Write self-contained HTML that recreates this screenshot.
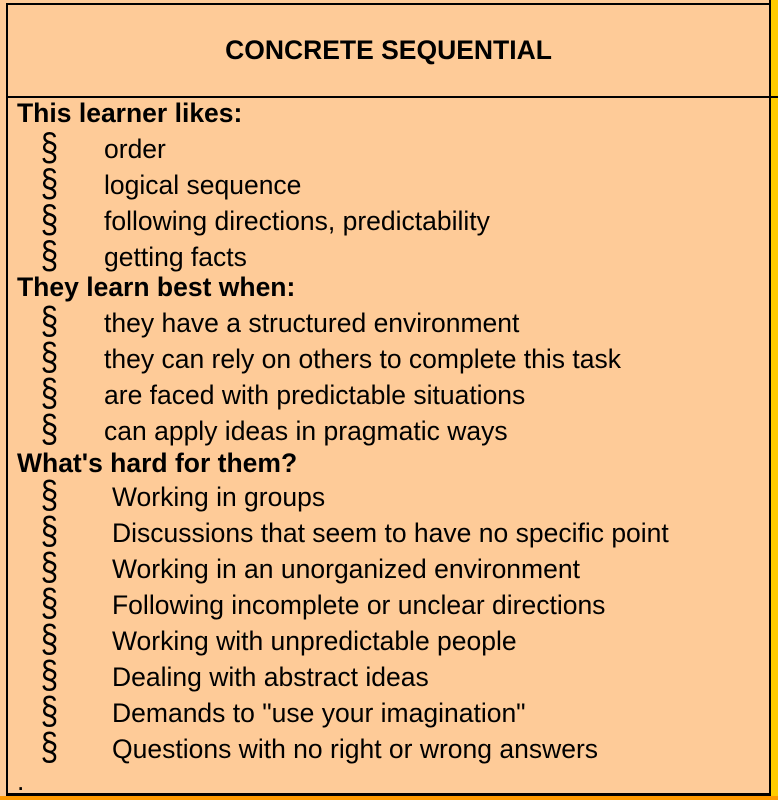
<!DOCTYPE html>
<html><head><style>
body{margin:0;width:778px;height:800px;background:#fff;position:relative;overflow:hidden;font-family:"Liberation Sans",sans-serif;}
.bg{position:absolute;left:0;top:0;width:778px;height:800px;background:#fecb98;}
.l{position:absolute;height:30px;line-height:30px;font-size:26.5px;color:#000;white-space:nowrap;}
.b{font-weight:bold;left:17px;}
.s{left:41px;font-size:30px;transform:scale(1.05,1.3);transform-origin:50% 55%;}
</style></head><body>
<div class="bg"></div>
<div style="position:absolute;left:771px;top:0;width:7px;height:800px;background:#ffcc00"></div>
<div style="position:absolute;left:0;top:796px;width:778px;height:4px;background:#ff9900"></div>
<div style="position:absolute;left:6px;top:3px;width:2px;height:793px;background:#000"></div>
<div style="position:absolute;left:769px;top:0;width:2px;height:796px;background:#000"></div>
<div style="position:absolute;left:6px;top:3px;width:765px;height:2px;background:#000"></div>
<div style="position:absolute;left:6px;top:96px;width:772px;height:2px;background:#000"></div>
<div style="position:absolute;left:6px;top:793px;width:765px;height:3px;background:#000"></div>
<div class="l" style="left:8px;width:761px;text-align:center;top:35px;font-weight:bold">CONCRETE SEQUENTIAL</div>

<div class="l b" style="top:98px">This learner likes:</div>
<div class="l s" style="top:134px">§</div><div class="l" style="left:104px;top:134px">order</div>
<div class="l s" style="top:170px">§</div><div class="l" style="left:104px;top:170px">logical sequence</div>
<div class="l s" style="top:206px">§</div><div class="l" style="left:104px;top:206px">following directions, predictability</div>
<div class="l s" style="top:242px">§</div><div class="l" style="left:104px;top:242px">getting facts</div>
<div class="l b" style="top:272px">They learn best when:</div>
<div class="l s" style="top:308px">§</div><div class="l" style="left:104px;top:308px">they have a structured environment</div>
<div class="l s" style="top:344px">§</div><div class="l" style="left:104px;top:344px">they can rely on others to complete this task</div>
<div class="l s" style="top:380px">§</div><div class="l" style="left:104px;top:380px">are faced with predictable situations</div>
<div class="l s" style="top:416px">§</div><div class="l" style="left:104px;top:416px">can apply ideas in pragmatic ways</div>
<div class="l b" style="top:448px">What's hard for them?</div>
<div class="l s" style="top:482px">§</div><div class="l" style="left:112px;top:482px">Working in groups</div>
<div class="l s" style="top:518px">§</div><div class="l" style="left:112px;top:518px">Discussions that seem to have no specific point</div>
<div class="l s" style="top:554px">§</div><div class="l" style="left:112px;top:554px">Working in an unorganized environment</div>
<div class="l s" style="top:590px">§</div><div class="l" style="left:112px;top:590px">Following incomplete or unclear directions</div>
<div class="l s" style="top:626px">§</div><div class="l" style="left:112px;top:626px">Working with unpredictable people</div>
<div class="l s" style="top:662px">§</div><div class="l" style="left:112px;top:662px">Dealing with abstract ideas</div>
<div class="l s" style="top:698px">§</div><div class="l" style="left:112px;top:698px">Demands to "use your imagination"</div>
<div class="l s" style="top:734px">§</div><div class="l" style="left:112px;top:734px">Questions with no right or wrong answers</div>
<div class="l" style="left:17px;top:766px">.</div>
</body></html>
